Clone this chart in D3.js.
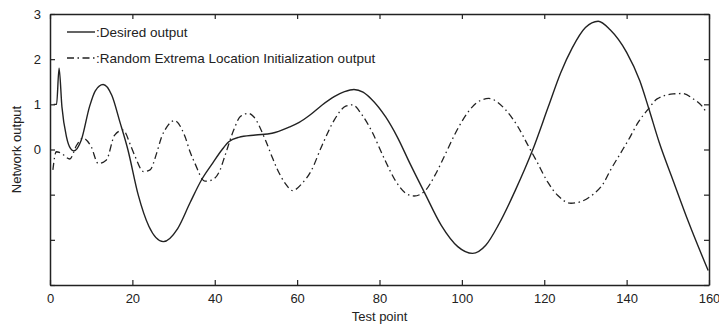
<!DOCTYPE html>
<html><head><meta charset="utf-8">
<script src="https://cdn.jsdelivr.net/npm/d3@7"></script>
<style>body{margin:0;background:#fff}svg{display:block}text{font-family:"Liberation Sans",Arial,sans-serif;fill:#222}</style>
</head><body>
<script>
const desiredT = [0.9,1.6,2.2,2.9,4.0,5.0,5.8,7.6,9.6,11.0,12.9,15.0,17.0,18.9,21.4,24.0,27.5,31.0,34.0,36.8,39.5,41.8,43.4,45.8,49.9,53.9,57.9,60.5,63.2,66.0,69.0,71.5,73.8,76.0,78.0,81.5,84.3,87.5,90.9,95.0,99.0,102.6,105.8,109.0,113.0,117.1,121.0,124.0,126.8,130.0,133.1,136.0,140.0,143.2,145.3,147.9,151.3,155.0,159.8];
const desiredV = [1.0,1.0,1.8,0.94,0.28,0.02,-0.03,0.21,0.95,1.3,1.44,1.2,0.6,0.0,-1.0,-1.7,-2.04,-1.75,-1.18,-0.67,-0.3,0.0,0.17,0.27,0.32,0.36,0.49,0.6,0.77,0.98,1.17,1.28,1.33,1.27,1.12,0.72,0.28,-0.33,-0.95,-1.68,-2.15,-2.30,-2.12,-1.65,-0.9,-0.03,0.95,1.7,2.25,2.7,2.84,2.65,2.15,1.52,0.93,0.16,-0.69,-1.6,-2.68];
const randomT = [0.7,1.5,2.7,4.8,6.5,8.0,10.0,11.7,13.7,15.7,17.7,19.7,20.7,22.7,24.3,25.9,27.1,28.3,30.2,32.8,34.0,35.2,37.6,39.2,41.3,42.4,44.6,46.2,48.2,49.4,52.3,53.9,55.1,57.1,58.9,61.2,63.3,66.1,69.0,71.8,73.4,75.8,78.2,81.1,84.0,86.4,88.4,90.9,93.7,96.1,98.2,100.2,102.6,104.4,106.5,110.6,113.5,116.3,118.1,120.9,123.3,126.5,128.7,131.9,134.3,136.0,138.4,140.8,142.8,145.3,147.4,151.3,153.6,156.2,158.2,159.4];
const randomV = [-0.45,-0.05,-0.08,-0.21,0.1,0.25,0.06,-0.31,-0.23,0.32,0.43,0.06,-0.16,-0.49,-0.45,-0.08,0.28,0.49,0.64,0.28,-0.05,-0.31,-0.70,-0.68,-0.45,-0.16,0.43,0.73,0.80,0.73,0.21,-0.16,-0.42,-0.75,-0.91,-0.75,-0.49,0.10,0.65,0.96,0.99,0.76,0.39,-0.19,-0.71,-0.97,-1.03,-0.93,-0.53,-0.08,0.32,0.65,0.95,1.08,1.13,0.88,0.52,0.05,-0.25,-0.73,-1.02,-1.19,-1.16,-0.99,-0.76,-0.47,-0.10,0.27,0.60,0.90,1.12,1.23,1.24,1.12,0.97,0.82];
const xTicks = [0,20,40,60,80,100,120,140,160];
const yTicks = [-3,-2,-1,0,1,2,3];
const yLabelTicks = [0,1,2,3];
const legendLabels = [":Desired output", ":Random Extrema Location Initialization output"];
const xTitle = "Test point", yTitle = "Network output";

const W = 719, H = 328;
const m = {l:50, r:10, t:14, b:43};
const svg = d3.select("body").append("svg").attr("width", W).attr("height", H);
const x = d3.scaleLinear().domain([0,160]).range([m.l, W-m.r]);
const y = d3.scaleLinear().domain([-3,3]).range([H-m.b, m.t]);
const ink = "#222";

const line = d3.line().x(d=>x(d[0])).y(d=>y(d[1])).curve(d3.curveMonotoneX);
const desired = desiredT.map((t,i)=>[t, desiredV[i]]);
const random = randomT.map((t,i)=>[t, randomV[i]]);
const dashPat = "7,3.5,1.5,3.5";

svg.append("path").datum(random).attr("d", line).attr("fill","none").attr("stroke",ink).attr("stroke-width",1.3).attr("stroke-dasharray",dashPat);
svg.append("path").datum(desired).attr("d", line).attr("fill","none").attr("stroke",ink).attr("stroke-width",1.4);

// axes
const fmtY = d => yLabelTicks.includes(d) ? d : "";
const axB = svg.append("g").attr("transform",`translate(0,${H-m.b})`).call(d3.axisBottom(x).tickValues(xTicks).tickSizeInner(-5).tickSizeOuter(0).tickPadding(9));
const axT = svg.append("g").attr("transform",`translate(0,${m.t})`).call(d3.axisTop(x).tickValues(xTicks).tickSizeInner(-5).tickSizeOuter(0).tickFormat(""));
const axL = svg.append("g").attr("transform",`translate(${m.l},0)`).call(d3.axisLeft(y).tickValues(yTicks).tickSizeInner(-5).tickSizeOuter(0).tickPadding(9).tickFormat(fmtY));
const axR = svg.append("g").attr("transform",`translate(${W-m.r},0)`).call(d3.axisRight(y).tickValues(yTicks).tickSizeInner(-5).tickSizeOuter(0).tickFormat(""));
[axB,axT,axL,axR].forEach(g=>{
  g.selectAll(".domain").attr("stroke",ink).attr("stroke-width",1.5);
  g.selectAll(".tick line").attr("stroke",ink).attr("stroke-width",1.2);
  g.selectAll("text").attr("font-size",13).attr("fill",ink).attr("font-family","Liberation Sans, Arial, sans-serif");
});

svg.append("text").attr("x",(m.l+W-m.r)/2).attr("y",321).attr("text-anchor","middle").attr("font-size",13).text(xTitle);
svg.append("text").attr("transform",`translate(21,${(m.t+H-m.b)/2}) rotate(-90)`).attr("text-anchor","middle").attr("font-size",13).text(yTitle);

// legend
const legY = [32, 58];
legendLabels.forEach((lab,i)=>{
  svg.append("line").attr("x1",67).attr("x2",95).attr("y1",legY[i]).attr("y2",legY[i]).attr("stroke",ink).attr("stroke-width",i?1.3:1.4).attr("stroke-dasharray",i?dashPat:null);
  svg.append("text").attr("x",96).attr("y",legY[i]).attr("dy","0.35em").attr("font-size",13.5).text(lab);
});
</script>
</body></html>
